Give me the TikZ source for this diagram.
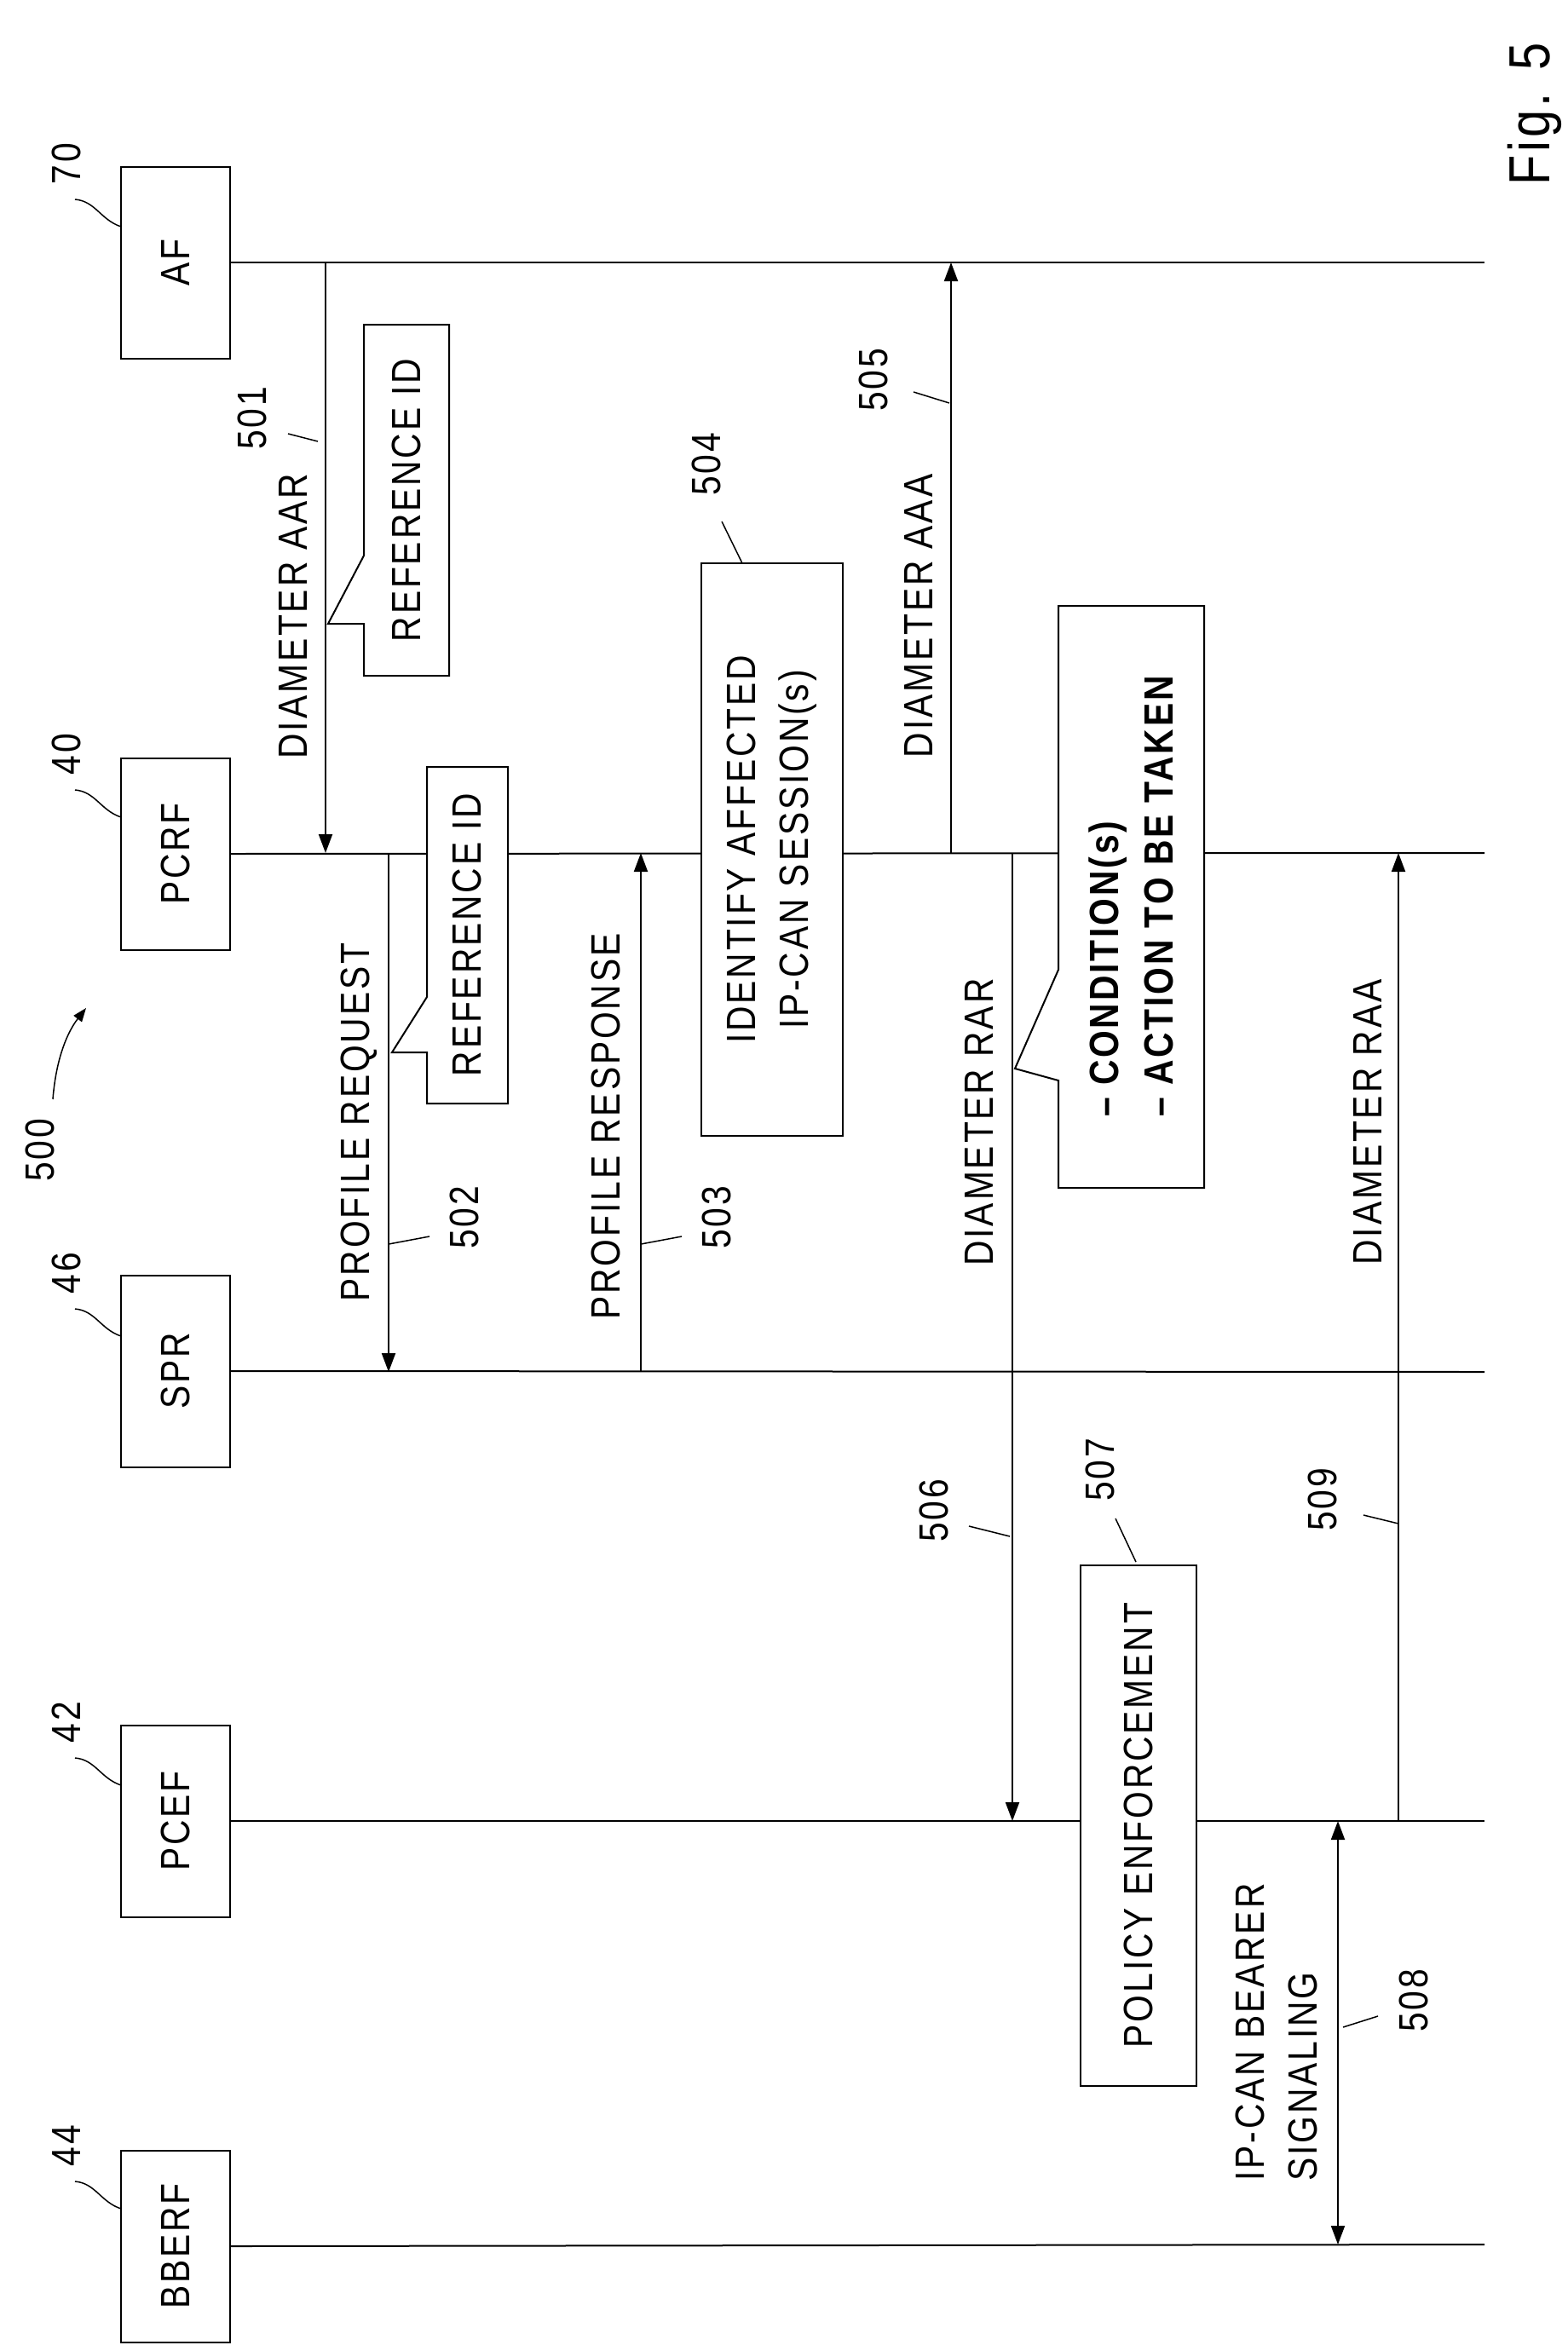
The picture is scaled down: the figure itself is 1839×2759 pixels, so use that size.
\documentclass[tikz,border=0pt]{standalone}
\usepackage{fontspec}
\setmainfont[FakeStretch=0.85,LetterSpace=6]{Liberation Sans}
\usetikzlibrary{arrows.meta}
\begin{document}
\begin{tikzpicture}[x=1pt,y=-1pt,line width=2pt,
  txt/.style={rotate=90,inner sep=0pt,font=\fontsize{48}{58}\selectfont},
  actor/.style={draw,fill=white,rotate=90,minimum width=225pt,minimum height=128pt,font=\fontsize{48}{58}\selectfont},
  proc/.style={draw,fill=white,rotate=90,inner sep=0pt,align=center,font=\fontsize{48}{62}\selectfont},
  msg/.style={-{Triangle[width=16pt,length=22pt]}},
  lead/.style={line width=1.5pt}]
\useasboundingbox (0,0) rectangle (1839,2759);
% actors
\node[actor] (af) at (206,308) {AF};
\node[actor] (pcrf) at (206,1002) {PCRF};
\node[actor] (spr) at (206,1609) {SPR};
\node[actor] (pcef) at (206,2137) {PCEF};
\node[actor] (bberf) at (206,2636) {BBERF};
\coordinate (afE) at (1742,308);
\coordinate (pcrfE) at (1742,1001);
\coordinate (sprE) at (1742,1610);
\coordinate (pcefE) at (1742,2137);
\coordinate (bberfE) at (1742,2634);
\draw (af.south) -- (afE);
\draw (pcrf.south) -- (pcrfE);
\draw (spr.south) -- (sprE);
\draw (pcef.south) -- (pcefE);
\draw (bberf.south) -- (bberfE);
% actor ref labels
\foreach \n/\y/\t in {af/308/70,pcrf/1001/40,spr/1610/46,pcef/2137/42,bberf/2634/44}{
  \node[txt] (l\n) at (78,\y-116) {\t};
  \draw[lead] (88,\y-74) .. controls (112,\y-72) and (118,\y-50) .. (142,\y-42);
}
% 500
\node[txt] (l500) at (47,1350) {500};
\coordinate (a500) at (101,1183);
\draw[lead,-{Triangle[width=12pt,length=16pt]}] (62,1290) .. controls (66,1240) and (80,1210) .. (a500);
% Fig 5
\node[txt,font=\fontsize{68}{78}\selectfont] (fig) at (1801,134) {Fig. 5};
% 501
\draw[msg] (382,308) -- (382,1001);
\node[txt] (t501) at (344,723) {DIAMETER AAR};
\node[txt] (n501) at (296,491) {501};
\draw[lead] (338,509) -- (373,518);
\draw[fill=white] (427,652) -- (427,381) -- (527,381) -- (527,793) -- (427,793) -- (427,732) -- (385,732) -- cycle;
\node[txt] (c1) at (477,587) {REFERENCE ID};
% 502
\draw[msg] (456,1001) -- (456,1610);
\node[txt] (t502) at (421,1317) {PROFILE REQUEST};
\node[txt] (n502) at (545,1429) {502};
\draw[lead] (456,1460) -- (504,1451);
\draw[fill=white] (501,1170) -- (501,900) -- (596,900) -- (596,1295) -- (501,1295) -- (501,1235) -- (460,1235) -- cycle;
\node[txt] (c2) at (548,1097) {REFERENCE ID};
% 503
\draw[msg] (752,1610) -- (752,1001);
\node[txt] (t503) at (711,1322) {PROFILE RESPONSE};
\node[txt] (n503) at (841,1429) {503};
\draw[lead] (752,1460) -- (800,1451);
% 504
\node[proc,minimum width=672pt,minimum height=166pt] (b504) at (906,997) {IDENTIFY AFFECTED\\IP-CAN SESSION(s)};
\node[txt] (n504) at (829,545) {504};
\draw[lead] (847,612) -- (871,661);
% 505
\draw[msg] (1116,1001) -- (1116,308);
\node[txt] (t505) at (1078,723) {DIAMETER AAA};
\node[txt] (n505) at (1025,446) {505};
\draw[lead] (1072,460) -- (1114,473);
% 506
\draw[msg] (1188,1001) -- (1188,2137);
\node[txt] (t506) at (1149,1317) {DIAMETER RAR};
\node[txt] (n506) at (1096,1773) {506};
\draw[lead] (1137,1791) -- (1185,1803);
\draw[fill=white] (1242,1138) -- (1242,711) -- (1413,711) -- (1413,1394) -- (1242,1394) -- (1242,1268) -- (1191,1254) -- cycle;
\node[txt,align=left,font=\bfseries\fontsize{48}{64}\selectfont] (c3) at (1327,1052) {-- CONDITION(s)\\-- ACTION TO BE TAKEN};
% 509
\draw[msg] (1641,2137) -- (1641,1001);
\node[txt] (t509) at (1605,1317) {DIAMETER RAA};
\node[txt] (n509) at (1552,1760) {509};
\draw[lead] (1600,1778) -- (1641,1788);
% 507
\node[proc,minimum width=611pt,minimum height=136pt] (b507) at (1336,2142) {POLICY ENFORCEMENT};
\node[txt] (n507) at (1291,1725) {507};
\draw[lead] (1309,1782) -- (1333,1833);
% 508
\draw[{Triangle[width=16pt,length=22pt]}-{Triangle[width=16pt,length=22pt]}] (1570,2137) -- (1570,2634);
\node[txt,align=left,font=\fontsize{48}{62}\selectfont] (t508) at (1498,2385) {IP-CAN BEARER\\SIGNALING};
\node[txt] (n508) at (1659,2348) {508};
\draw[lead] (1576,2379) -- (1617,2366);
\end{tikzpicture}
\end{document}
